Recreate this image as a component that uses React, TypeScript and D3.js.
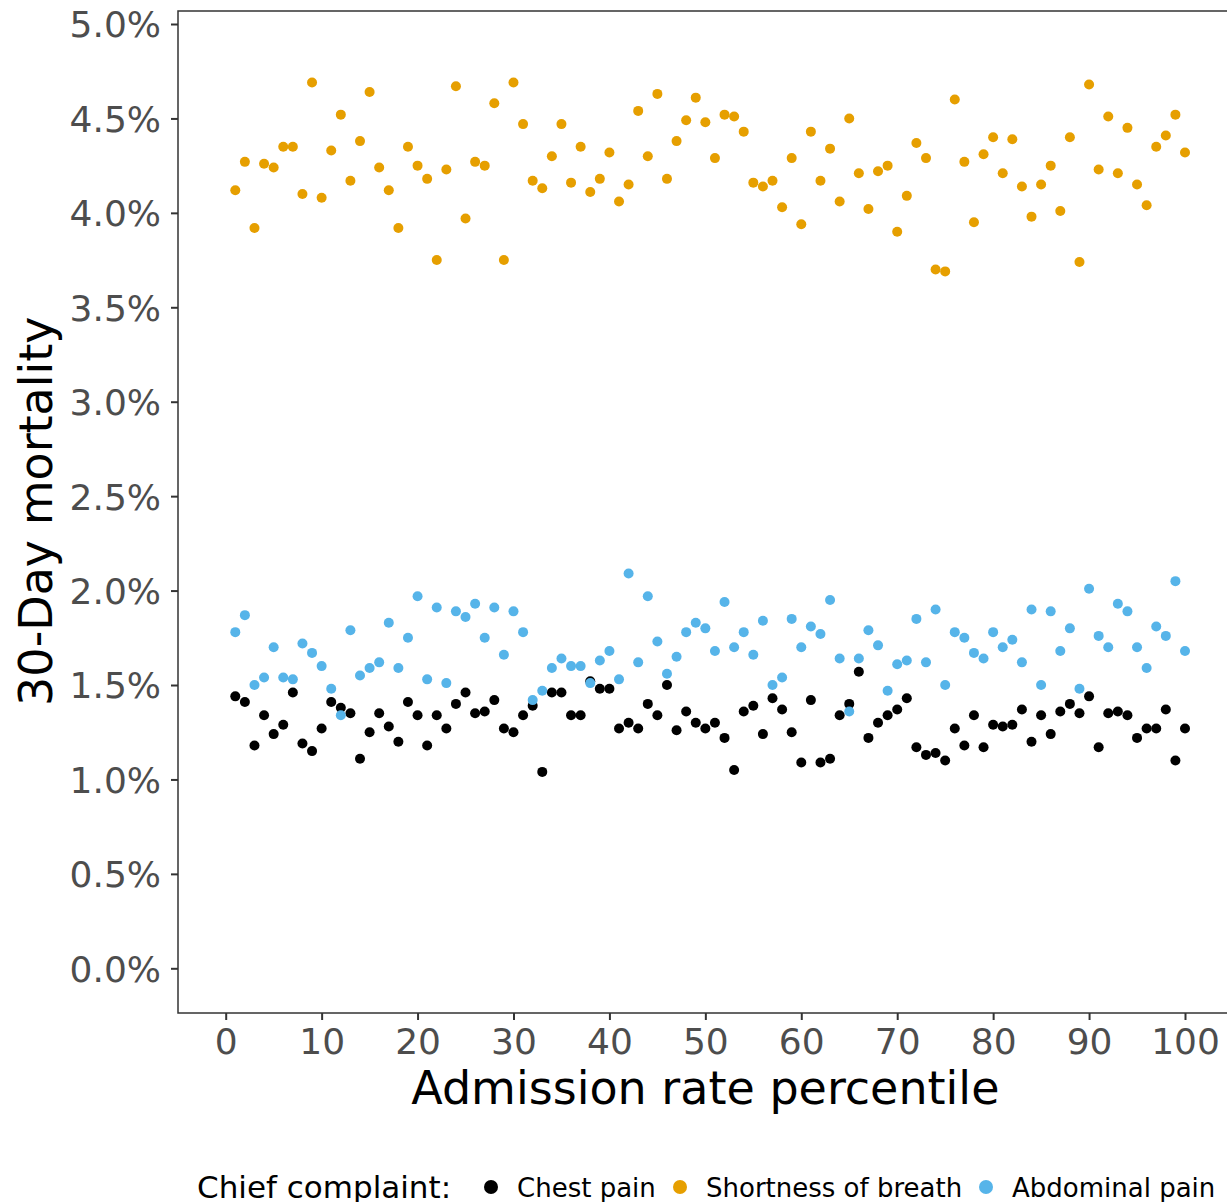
import { useEffect, useRef } from "react";
import * as d3 from "d3";

// admission rate percentile, 1..100
const percentiles = d3.range(1, 101);

// 30-day mortality (%) per percentile
const chestPain = [
  1.44, 1.41, 1.18, 1.34, 1.24, 1.29, 1.46, 1.19, 1.15, 1.27,
  1.41, 1.38, 1.35, 1.11, 1.25, 1.35, 1.28, 1.2, 1.41, 1.34,
  1.18, 1.34, 1.27, 1.4, 1.46, 1.35, 1.36, 1.42, 1.27, 1.25,
  1.34, 1.39, 1.04, 1.46, 1.46, 1.34, 1.34, 1.52, 1.48, 1.48,
  1.27, 1.3, 1.27, 1.4, 1.34, 1.5, 1.26, 1.36, 1.3, 1.27,
  1.3, 1.22, 1.05, 1.36, 1.39, 1.24, 1.43, 1.37, 1.25, 1.09,
  1.42, 1.09, 1.11, 1.34, 1.4, 1.57, 1.22, 1.3, 1.34, 1.37,
  1.43, 1.17, 1.13, 1.14, 1.1, 1.27, 1.18, 1.34, 1.17, 1.29,
  1.28, 1.29, 1.37, 1.2, 1.34, 1.24, 1.36, 1.4, 1.35, 1.44,
  1.17, 1.35, 1.36, 1.34, 1.22, 1.27, 1.27, 1.37, 1.1, 1.27,
];

const shortnessOfBreath = [
  4.12, 4.27, 3.92, 4.26, 4.24, 4.35, 4.35, 4.1, 4.69, 4.08,
  4.33, 4.52, 4.17, 4.38, 4.64, 4.24, 4.12, 3.92, 4.35, 4.25,
  4.18, 3.75, 4.23, 4.67, 3.97, 4.27, 4.25, 4.58, 3.75, 4.69,
  4.47, 4.17, 4.13, 4.3, 4.47, 4.16, 4.35, 4.11, 4.18, 4.32,
  4.06, 4.15, 4.54, 4.3, 4.63, 4.18, 4.38, 4.49, 4.61, 4.48,
  4.29, 4.52, 4.51, 4.43, 4.16, 4.14, 4.17, 4.03, 4.29, 3.94,
  4.43, 4.17, 4.34, 4.06, 4.5, 4.21, 4.02, 4.22, 4.25, 3.9,
  4.09, 4.37, 4.29, 3.7, 3.69, 4.6, 4.27, 3.95, 4.31, 4.4,
  4.21, 4.39, 4.14, 3.98, 4.15, 4.25, 4.01, 4.4, 3.74, 4.68,
  4.23, 4.51, 4.21, 4.45, 4.15, 4.04, 4.35, 4.41, 4.52, 4.32,
];

const abdominalPain = [
  1.78, 1.87, 1.5, 1.54, 1.7, 1.54, 1.53, 1.72, 1.67, 1.6,
  1.48, 1.34, 1.79, 1.55, 1.59, 1.62, 1.83, 1.59, 1.75, 1.97,
  1.53, 1.91, 1.51, 1.89, 1.86, 1.93, 1.75, 1.91, 1.66, 1.89,
  1.78, 1.42, 1.47, 1.59, 1.64, 1.6, 1.6, 1.51, 1.63, 1.68,
  1.53, 2.09, 1.62, 1.97, 1.73, 1.56, 1.65, 1.78, 1.83, 1.8,
  1.68, 1.94, 1.7, 1.78, 1.66, 1.84, 1.5, 1.54, 1.85, 1.7,
  1.81, 1.77, 1.95, 1.64, 1.36, 1.64, 1.79, 1.71, 1.47, 1.61,
  1.63, 1.85, 1.62, 1.9, 1.5, 1.78, 1.75, 1.67, 1.64, 1.78,
  1.7, 1.74, 1.62, 1.9, 1.5, 1.89, 1.68, 1.8, 1.48, 2.01,
  1.76, 1.7, 1.93, 1.89, 1.7, 1.59, 1.81, 1.76, 2.05, 1.68,
];

const seriesNames = ["Chest pain", "Shortness of breath", "Abdominal pain"];
const seriesColors = ["#000000", "#E69F00", "#56B4E9"];
const xTicks = [0, 10, 20, 30, 40, 50, 60, 70, 80, 90, 100];
const yTicks = [0, 0.5, 1, 1.5, 2, 2.5, 3, 3.5, 4, 4.5, 5];

const App = () => {
  const ref = useRef(null);

  const width = 1227;
  const height = 1202;
  const panelLeft = 178;
  const panelTop = 11;
  const panelBottom = 1013;
  const panelRight = 1240;
  const font = "DejaVu Sans, sans-serif";

  const x = d3.scaleLinear().domain([0, 100]).range([225.7, 1185]);
  const y = d3.scaleLinear().domain([0, 5]).range([968.3, 24]);

  useEffect(() => {
    const svg = d3.select(ref.current);
    svg.selectAll("*").remove();

    svg.append("rect").attr("width", width).attr("height", height).attr("fill", "white");

    // points, drawn series by series
    const all = [chestPain, shortnessOfBreath, abdominalPain];
    const data = all.flatMap((vals, s) =>
      vals.map((v, i) => ({ s, x: percentiles[i], v })),
    );
    svg
      .append("g")
      .selectAll("circle")
      .data(data)
      .join("circle")
      .attr("cx", (d) => x(d.x))
      .attr("cy", (d) => y(d.v))
      .attr("r", 5)
      .attr("fill", (d) => seriesColors[d.s]);

    // panel border
    svg
      .append("rect")
      .attr("x", panelLeft)
      .attr("y", panelTop)
      .attr("width", panelRight - panelLeft)
      .attr("height", panelBottom - panelTop)
      .attr("fill", "none")
      .attr("stroke", "#333333")
      .attr("stroke-width", 1.5);

    // y axis
    const yAxis = svg
      .append("g")
      .attr("transform", `translate(${panelLeft},0)`)
      .call(
        d3
          .axisLeft(y)
          .tickValues(yTicks)
          .tickSize(7)
          .tickPadding(10)
          .tickFormat((d) => d3.format(".1f")(d) + "%"),
      );
    yAxis.select(".domain").remove();
    yAxis.selectAll("line").attr("stroke", "#333333").attr("stroke-width", 2);
    yAxis
      .selectAll("text")
      .attr("fill", "#4D4D4D")
      .attr("font-family", font)
      .attr("font-size", 36)
      .attr("dy", "0.36em");

    // x axis
    const xAxis = svg
      .append("g")
      .attr("transform", `translate(0,${panelBottom})`)
      .call(d3.axisBottom(x).tickValues(xTicks).tickSize(7).tickPadding(8));
    xAxis.select(".domain").remove();
    xAxis.selectAll("line").attr("stroke", "#333333").attr("stroke-width", 2);
    xAxis
      .selectAll("text")
      .attr("fill", "#4D4D4D")
      .attr("font-family", font)
      .attr("font-size", 36)
      .attr("dy", "0.72em");

    // axis titles
    svg
      .append("text")
      .attr("x", (x(0) + x(100)) / 2)
      .attr("y", 1104)
      .attr("text-anchor", "middle")
      .attr("font-family", font)
      .attr("font-size", 46)
      .attr("fill", "black")
      .text("Admission rate percentile");

    svg
      .append("text")
      .attr("transform", `translate(52,${(y(0) + y(5)) / 2 + 15}) rotate(-90)`)
      .attr("text-anchor", "middle")
      .attr("font-family", font)
      .attr("font-size", 46)
      .attr("fill", "black")
      .text("30-Day mortality");

    // legend
    const legend = svg.append("g").attr("font-family", font);
    legend
      .append("text")
      .attr("x", 197)
      .attr("y", 1198)
      .attr("font-size", 31)
      .attr("fill", "black")
      .text("Chief complaint:");
    const keyX = [491, 680, 986];
    seriesNames.forEach((name, i) => {
      legend
        .append("circle")
        .attr("cx", keyX[i])
        .attr("cy", 1187)
        .attr("r", 7)
        .attr("fill", seriesColors[i]);
      legend
        .append("text")
        .attr("x", keyX[i] + 26)
        .attr("y", 1197)
        .attr("font-size", 26)
        .attr("fill", "black")
        .text(name);
    });
  });

  return (
    <svg
      ref={ref}
      width={width}
      height={height}
      style={{ position: "absolute", left: 0, top: 0 }}
    ></svg>
  );
};

export default App;
